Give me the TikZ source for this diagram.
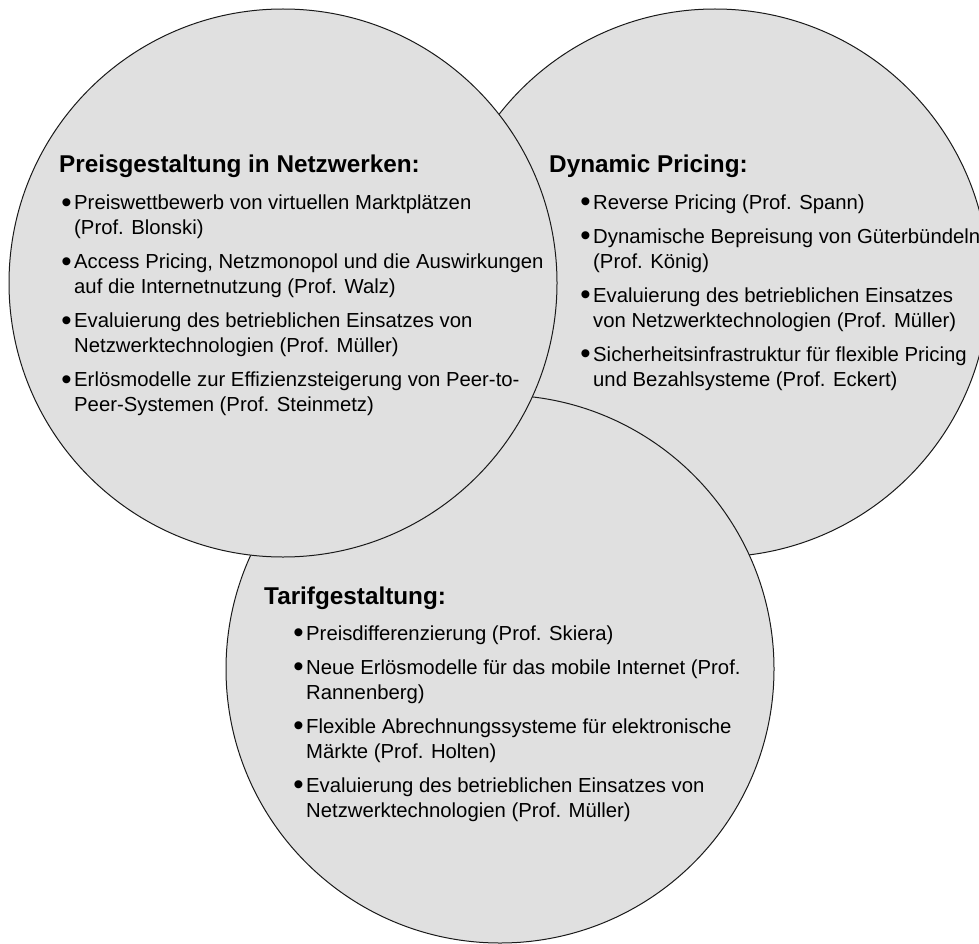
\documentclass[tikz,border=0pt]{standalone}
\usepackage{fontspec}
\setmainfont{Liberation Sans}
\usepackage{tikz}

\begin{document}
\begin{tikzpicture}[x=1pt, y=-1pt,
  titel/.style={anchor=base west, inner sep=0pt, font=\fontsize{24.3}{29}\selectfont\bfseries},
  punkt/.style={anchor=base west, inner sep=0pt, align=left, font=\fontsize{20.3}{25}\selectfont}]

% Farben
\definecolor{colKreis}{HTML}{E0E0E0}
\definecolor{colRand}{HTML}{1A1A1A}

% Radius der Kreise
\def\r{274pt}
% Aufzaehlungszeichen
\def\pkt{\llap{\raisebox{-2.5pt}{\scalebox{1.45}{\textbullet}}\hspace{2.5pt}}}

\clip (0,0) rectangle (979,944);

% Kreise (rechts, unten, links)
\path[fill=colKreis, draw=colRand, line width=1pt] (715,283) circle (\r);
\path[fill=colKreis, draw=colRand, line width=1pt] (500,669) circle (\r);
\path[fill=colKreis, draw=colRand, line width=1pt] (283,283) circle (\r);

% Preisgestaltung in Netzwerken (y = Grundlinie der letzten Zeile)
\node[titel] (tNetz) at (59,172.5) {Preisgestaltung in Netzwerken:};
\node[punkt] (netz1) at (74,234.5) {\pkt Preiswettbewerb von virtuellen Marktplätzen\\(Prof. Blonski)};
\node[punkt] (netz2) at (74,293.5) {\pkt Access Pricing, Netzmonopol und die Auswirkungen\\auf die Internetnutzung (Prof. Walz)};
\node[punkt] (netz3) at (74,352.5) {\pkt Evaluierung des betrieblichen Einsatzes von\\Netzwerktechnologien (Prof. Müller)};
\node[punkt] (netz4) at (74,411.5) {\pkt Erlösmodelle zur Effizienzsteigerung von Peer-to-\\Peer-Systemen (Prof. Steinmetz)};

% Dynamic Pricing
\node[titel] (tDyn) at (549,172) {Dynamic Pricing:};
\node[punkt] (dyn1) at (593,209) {\pkt Reverse Pricing (Prof. Spann)};
\node[punkt] (dyn2) at (593,268) {\pkt Dynamische Bepreisung von Güterbündeln\\(Prof. König)};
\node[punkt] (dyn3) at (593,327) {\pkt Evaluierung des betrieblichen Einsatzes\\von Netzwerktechnologien (Prof. Müller)};
\node[punkt] (dyn4) at (593,386) {\pkt Sicherheitsinfrastruktur für flexible Pricing\\und Bezahlsysteme (Prof. Eckert)};

% Tarifgestaltung
\node[titel] (tTarif) at (264,604) {Tarifgestaltung:};
\node[punkt] (tarif1) at (306,640) {\pkt Preisdifferenzierung (Prof. Skiera)};
\node[punkt] (tarif2) at (306,699) {\pkt Neue Erlösmodelle für das mobile Internet (Prof.\\Rannenberg)};
\node[punkt] (tarif3) at (306,758) {\pkt Flexible Abrechnungssysteme für elektronische\\Märkte (Prof. Holten)};
\node[punkt] (tarif4) at (306,817) {\pkt Evaluierung des betrieblichen Einsatzes von\\Netzwerktechnologien (Prof. Müller)};
\end{tikzpicture}
\end{document}
